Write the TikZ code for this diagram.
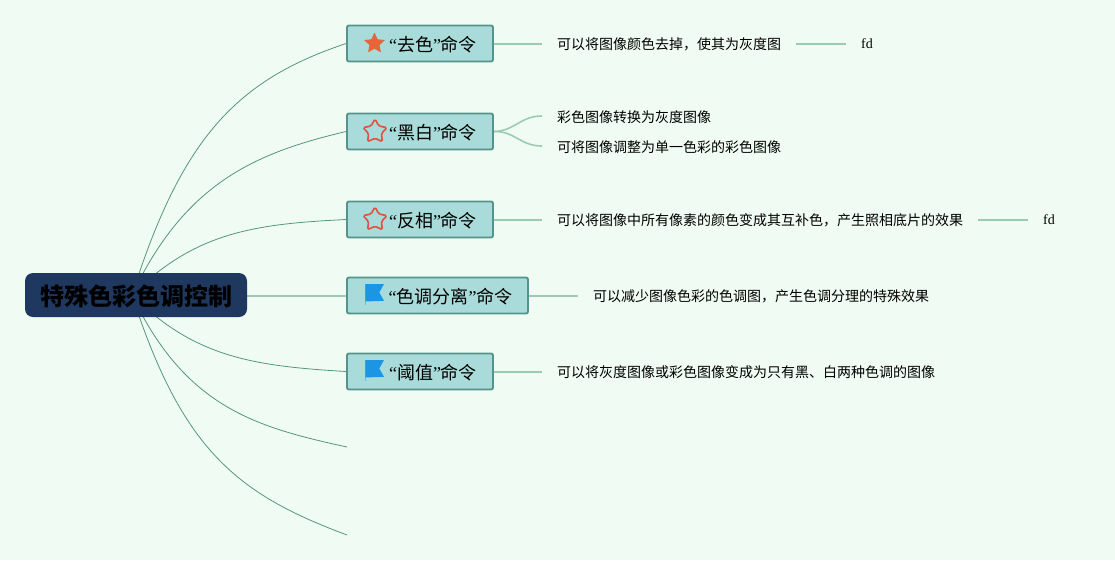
\documentclass[tikz,border=0pt]{standalone}
\usepackage{fontspec}
\setmainfont{Liberation Serif}
\newfontfamily\cjk{Noto Sans CJK SC}
\usetikzlibrary{positioning,calc,shapes.geometric,backgrounds}
\definecolor{bgmint}{RGB}{240,252,243}
\definecolor{rootblue}{RGB}{30,56,96}
\definecolor{boxteal}{RGB}{168,219,217}
\definecolor{boxedge}{RGB}{84,148,138}
\definecolor{mainline}{RGB}{84,150,125}
\definecolor{leafline}{RGB}{155,203,180}
\definecolor{starorange}{RGB}{232,100,58}
\definecolor{starred}{RGB}{224,80,64}
\definecolor{flagblue}{RGB}{28,150,228}
\definecolor{flagpole}{RGB}{110,190,225}
\tikzset{rootbox/.style={fill=rootblue,rounded corners=8pt,minimum width=222pt,minimum height=44pt,inner sep=0pt,text height=25pt,text depth=5pt,font=\fontsize{24}{26}\selectfont\cjk\bfseries}  }
\tikzset{branchbox/.style={draw=boxedge,line width=1.9pt,fill=boxteal,rounded corners=2pt,minimum height=36pt,inner sep=0pt,text height=20pt,text depth=4pt,font=\fontsize{18}{20}\selectfont}  }
\tikzset{leaftext/.style={anchor=west,inner xsep=15pt,inner ysep=2pt,text height=15pt,text depth=3pt,font=\fontsize{14}{16}\selectfont\cjk}  }
\tikzset{fdtext/.style={anchor=west,inner xsep=15pt,inner ysep=2pt,text height=13pt,text depth=3pt,font=\fontsize{14}{16}\selectfont}  }
\tikzset{mainedge/.style={draw=mainline,line width=0.8pt}  }
\tikzset{leafedge/.style={draw=leafline,line width=1.6pt}  }
\tikzset{leafstraight/.style={draw=leafline,line width=2pt}  }
\tikzset{fullstar/.style={star,star points=5,star point ratio=2.1,fill=starorange,rounded corners=0.5pt,inner sep=0pt,minimum size=22pt}  }
\tikzset{openstar/.style={star,star points=5,star point ratio=1.85,draw=starred,line width=1.6pt,rounded corners=1.5pt,inner sep=0pt,minimum size=25pt}  }
\tikzset{flagicon/.pic={
    \fill[flagpole] (-9.6,-11) rectangle (-8.6,10);
    \fill[flagblue] (-9.6,-11) -- (9,-11) -- (4.3,-2.5) -- (9,5.8) -- (-9.6,6.5) -- cycle;
}}
\newcommand{\qm}[1]{\hspace{26pt}“{\cjk #1}”{\cjk 命令}}

\begin{document}
\begin{tikzpicture}[x=1pt,y=-1pt]
\useasboundingbox (0,0) rectangle (1115,560);

\node[rootbox] (root) at (136,295) {特殊色彩色调控制};
\coordinate (hub) at (132,295);

\node[branchbox,minimum width=146pt] (quse) at (420,43.5) {\qm{去色}};
\node[branchbox,minimum width=146pt] (heibai) at (420,131.5) {\qm{黑白}};
\node[branchbox,minimum width=146pt] (fanxiang) at (420,219.5) {\qm{反相}};
\node[branchbox,minimum width=181pt] (fenli) at (437.5,295.5) {\qm{色调分离}};
\node[branchbox,minimum width=146pt] (yuzhi) at (420,371.5) {\qm{阈值}};

\coordinate (free1) at (347,447);
\coordinate (free2) at (347,535);

\node[fullstar] (staruse) at (374.5,43.5) {};
\node[openstar] (starhei) at (375,131.5) {};
\node[openstar] (starfan) at (375,219.5) {};
\pic at (375,295) {flagicon};
\pic at (375,371) {flagicon};

\node[leaftext] (l1) at (542,43.5) {可以将图像颜色去掉，使其为灰度图};
\node[fdtext] (fd1) at (l1.east -| 846,0) {fd};
\node[leaftext] (l2a) at (542,116) {彩色图像转换为灰度图像};
\node[leaftext] (l2b) at (542,146) {可将图像调整为单一色彩的彩色图像};
\node[leaftext] (l3) at (542,219.5) {可以将图像中所有像素的颜色变成其互补色，产生照相底片的效果};
\node[fdtext] (fd3) at (l3.east -| 1028,0) {fd};
\node[leaftext] (l4) at (578,295.5) {可以减少图像色彩的色调图，产生色调分理的特殊效果};
\node[leaftext] (l5) at (542,371.5) {可以将灰度图像或彩色图像变成为只有黑、白两种色调的图像};

\begin{pgfonlayer}{background}
\fill[bgmint] (0,0) rectangle (1115,560);

% root to the branches
\draw[mainedge] (hub) .. controls (182,137) and (237,80) .. (quse.west);
\draw[mainedge] (hub) .. controls (185,183) and (255,153) .. (heibai.west);
\draw[mainedge] (hub) .. controls (195,232) and (255,224) .. (fanxiang.west);
\draw[leafstraight] (root.east |- fenli.west) -- (fenli.west);
\draw[mainedge] (hub) .. controls (195,358) and (255,366) .. (yuzhi.west);
\draw[mainedge] (hub) .. controls (185,407) and (255,427) .. (free1);
\draw[mainedge] (hub) .. controls (182,450) and (237,494) .. (free2);

\draw[leafstraight] (quse.east) -- (l1.west);
\draw[leafstraight] (l1.east) -- (fd1.west);
\draw[leafedge] (heibai.east) .. controls (515,131) and (520,116) .. (l2a.west);
\draw[leafedge] (heibai.east) .. controls (515,131) and (520,146) .. (l2b.west);
\draw[leafstraight] (fanxiang.east) -- (l3.west);
\draw[leafstraight] (l3.east) -- (fd3.west);
\draw[leafstraight] (fenli.east) -- (l4.west);
\draw[leafstraight] (yuzhi.east) -- (l5.west);
\end{pgfonlayer}
\end{tikzpicture}
\end{document}
